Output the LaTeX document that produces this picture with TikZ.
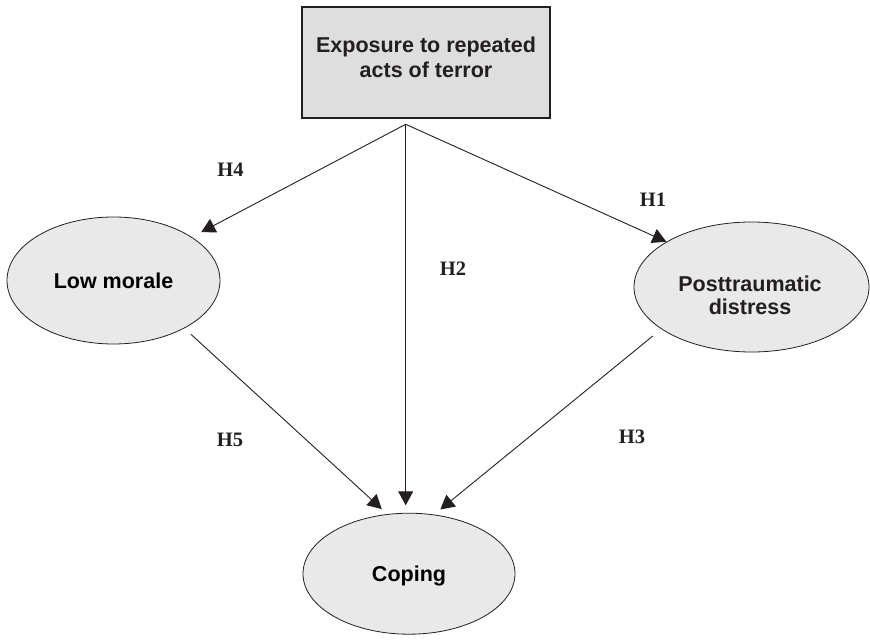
\documentclass[tikz,border=0pt]{standalone}
\usepackage{fontspec}
\setmainfont{Liberation Serif}
\newfontfamily\shapefont{Liberation Sans}
\usetikzlibrary{arrows.meta, shapes.geometric}
\definecolor{boxGray}{HTML}{DEDEDE}
\definecolor{ovalGray}{HTML}{E9E9EA}
\definecolor{lineDark}{HTML}{231F20}

\begin{document}
\begin{tikzpicture}[x=1pt, y=-1pt,
      factor/.style={rectangle, draw=lineDark, fill=boxGray, line width=1.1pt,
                     minimum width=248pt, minimum height=111pt, inner sep=0pt},
      oval/.style={ellipse, draw=lineDark, fill=ovalGray, line width=0.8pt,
                   inner sep=0pt, text depth=0pt,
                   font=\shapefont\bfseries\fontsize{21.5}{24}\selectfont},
      txt/.style={align=center, inner sep=0pt, text=lineDark,
                  font=\shapefont\bfseries\fontsize{21.5}{25}\selectfont},
      hyp/.style={font=\bfseries\fontsize{20.5}{24}\selectfont, text=lineDark, inner sep=0pt},
      arrow/.style={-{Triangle[length=14pt, width=15pt]}, line width=0.9pt, lineDark}
    ]
    \useasboundingbox (0,0) rectangle (870,644);

    % exposure box
    \node[factor] (expo) at (426,62.5) {};
    \node[txt] (expotext) at (426,57.1) {Exposure to repeated\\acts of terror};
    \coordinate (apex) at (405.7,124.3);

    % mediators and outcome
    \node[oval, minimum width=213pt, minimum height=127pt] (lowm) at (113.5,280.5) {Low morale};
    \node[oval, minimum width=235pt, minimum height=130pt] (ptsd) at (751.5,287) {};
    \node[txt, font=\shapefont\bfseries\fontsize{21.5}{23.3}\selectfont] (ptsdtext)
      at (750,295.6) {Posttraumatic\\distress};
    \node[oval, minimum width=212pt, minimum height=121pt] (coping) at (409,573.7) {Coping};

    % paths
    \draw[arrow, shorten >=10.5pt] (apex) -- (lowm.29);
    \draw[arrow] (apex) -- (ptsd.152);
    \draw[arrow, shorten >=7.5pt] (apex) -- (apex |- coping.north);
    \draw[arrow, shorten <=9pt, shorten >=7.5pt] (lowm.-34.6) -- (coping.110);
    \draw[arrow, shorten <=11pt, shorten >=8pt] (ptsd.205.3) -- (coping.67.2);

    % hypotheses
    \node[hyp] (h4) at (230.5,170) {H4};
    \node[hyp] (h2) at (453,268.5) {H2};
    \node[hyp] (h1) at (653,199.7) {H1};
    \node[hyp] (h5) at (230,440) {H5};
    \node[hyp] (h3) at (632,437) {H3};
  \end{tikzpicture}
\end{document}
